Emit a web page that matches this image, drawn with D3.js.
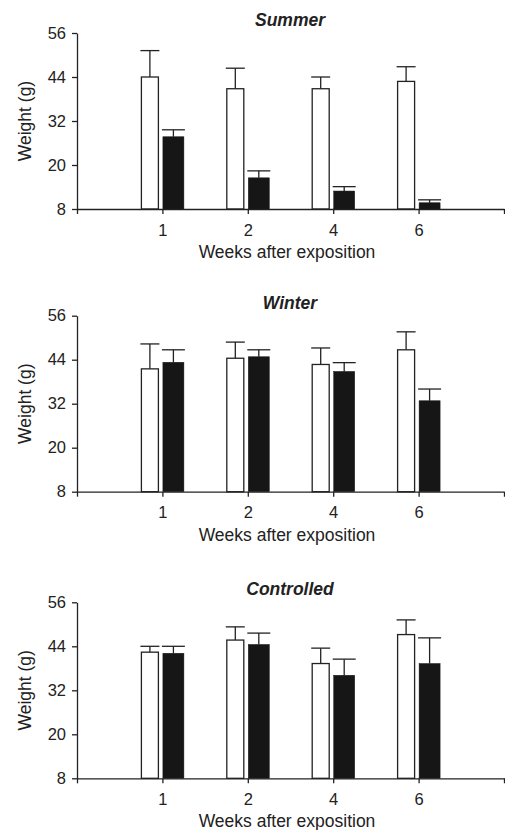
<!DOCTYPE html>
<html><head><meta charset="utf-8">
<script src="https://cdn.jsdelivr.net/npm/d3@7"></script>
<style>
body{margin:0;background:#fff}
svg{display:block}
text{font-family:"Liberation Sans",Arial,Helvetica,sans-serif;fill:#222}
</style>
</head><body>
<svg id="chart" width="505" height="830"></svg>
<script>
// ---- data ----
const weeks = ["1", "2", "4", "6"];
const yTicks = [8, 20, 32, 44, 56];
const panelTitles = ["Summer", "Winter", "Controlled"];

const summerOpen = [44.0, 40.8, 40.8, 42.8];
const summerOpenErr = [7.2, 5.6, 3.2, 4.0];
const summerFilled = [27.7, 16.5, 12.9, 9.7];
const summerFilledErr = [1.9, 1.9, 1.2, 0.8];

const winterOpen = [41.5, 44.4, 42.7, 46.7];
const winterOpenErr = [6.8, 4.4, 4.5, 4.9];
const winterFilled = [43.3, 44.8, 40.8, 32.8];
const winterFilledErr = [3.4, 1.9, 2.4, 3.2];

const controlledOpen = [42.4, 45.7, 39.3, 47.2];
const controlledOpenErr = [1.6, 3.6, 4.2, 4.0];
const controlledFilled = [42.1, 44.5, 36.1, 39.3];
const controlledFilledErr = [1.9, 3.1, 4.4, 7.0];

const panels = [
  {title: panelTitles[0], open: summerOpen, openErr: summerOpenErr, filled: summerFilled, filledErr: summerFilledErr},
  {title: panelTitles[1], open: winterOpen, openErr: winterOpenErr, filled: winterFilled, filledErr: winterFilledErr},
  {title: panelTitles[2], open: controlledOpen, openErr: controlledOpenErr, filled: controlledFilled, filledErr: controlledFilledErr}
];

// ---- layout ----
const svg = d3.select("#chart");
const left = 77, right = 504;
const plotTops = [33, 315.7, 602.3];
const plotH = 176;
const ink = "#222";
const lw = 1.3;

const x = d3.scaleLinear().domain([0, 5]).range([left, right]);

panels.forEach((p, pi) => {
  const top = plotTops[pi];
  const bottom = top + plotH;
  const y = d3.scaleLinear().domain([8, 56]).range([bottom, top]);
  const g = svg.append("g");

  const openBars = p.open.map((v, i) => ({v, e: p.openErr[i], x0: x(i + 1) - 21, w: 17}));
  const filledBars = p.filled.map((v, i) => ({v, e: p.filledErr[i], x0: x(i + 1) + 0.5, w: 21}));

  // error bars (upper only)
  [...openBars, ...filledBars].forEach(b => {
    const cx = b.x0 + b.w / 2;
    g.append("line").attr("x1", cx).attr("x2", cx)
      .attr("y1", y(b.v)).attr("y2", y(b.v + b.e))
      .attr("stroke", ink).attr("stroke-width", lw);
    g.append("line").attr("x1", cx - b.w / 2 - 1).attr("x2", cx + b.w / 2 + 1)
      .attr("y1", y(b.v + b.e)).attr("y2", y(b.v + b.e))
      .attr("stroke", ink).attr("stroke-width", lw);
  });

  g.selectAll("rect.open").data(openBars).join("rect")
    .attr("class", "open")
    .attr("x", d => d.x0).attr("width", d => d.w)
    .attr("y", d => y(d.v)).attr("height", d => y(8) - y(d.v))
    .attr("fill", "#fff").attr("stroke", ink).attr("stroke-width", lw);

  g.selectAll("rect.filled").data(filledBars).join("rect")
    .attr("class", "filled")
    .attr("x", d => d.x0).attr("width", d => d.w)
    .attr("y", d => y(d.v)).attr("height", d => y(8) - y(d.v))
    .attr("fill", "#161616").attr("stroke", "#161616").attr("stroke-width", 0.5);

  // axes
  const ya = d3.axisLeft(y).tickValues(yTicks).tickSize(5).tickSizeOuter(0).tickPadding(6);
  const yg = g.append("g").attr("transform", `translate(${left},0)`).call(ya);
  const xa = d3.axisBottom(x).tickValues([0, 1, 2, 3, 4, 5])
    .tickFormat(d => (d >= 1 && d <= 4) ? weeks[d - 1] : "")
    .tickSize(5).tickSizeOuter(0).tickPadding(10);
  const xg = g.append("g").attr("transform", `translate(0,${bottom})`).call(xa);
  [yg, xg].forEach(a => {
    a.selectAll("path,line").attr("stroke", ink).attr("stroke-width", lw);
    a.selectAll("text").attr("font-size", 16.5).attr("fill", ink)
      .attr("font-family", '"Liberation Sans",Arial,sans-serif');
  });

  // titles
  g.append("text").attr("x", 290).attr("y", top - 7)
    .attr("text-anchor", "middle").attr("font-size", 17.5)
    .attr("font-weight", "bold").attr("font-style", "italic")
    .text(p.title);

  g.append("text").attr("x", 287).attr("y", bottom + 49)
    .attr("text-anchor", "middle").attr("font-size", 17.5)
    .text("Weeks after exposition");

  g.append("text")
    .attr("transform", `translate(31,${(top + bottom) / 2}) rotate(-90)`)
    .attr("text-anchor", "middle").attr("font-size", 17.5)
    .text("Weight (g)");
});
</script>
</body></html>
